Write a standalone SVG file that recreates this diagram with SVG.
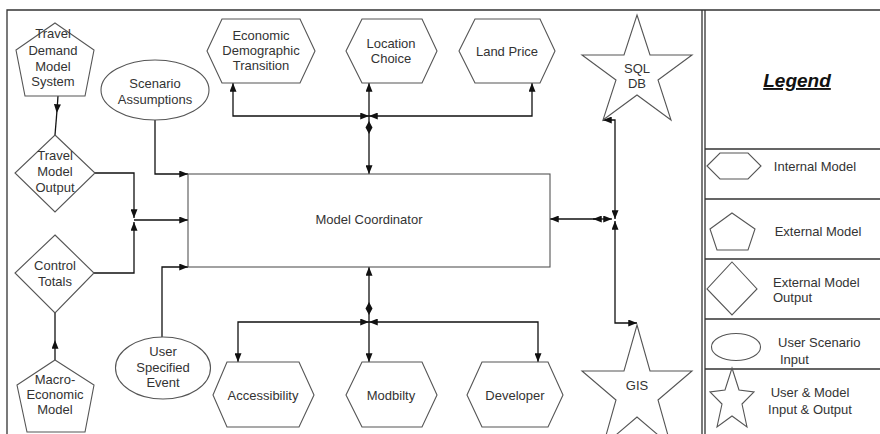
<svg xmlns="http://www.w3.org/2000/svg" width="880" height="434" viewBox="0 0 880 434">
<defs>
<marker id="ar" viewBox="0 0 10 8" refX="10" refY="4" markerWidth="9" markerHeight="7" markerUnits="userSpaceOnUse" orient="auto-start-reverse">
<path d="M0,0 L10,4 L0,8 Z" fill="#111"/>
</marker>
<style>
.sh{fill:#fff;stroke:#555;stroke-width:1.1}
.fr{fill:none;stroke:#333;stroke-width:1.3}
.cn{fill:none;stroke:#111;stroke-width:1.3}
.t{font-family:"Liberation Sans",Arial,sans-serif;font-size:13px;fill:#333;text-anchor:middle}
.tl{font-family:"Liberation Sans",Arial,sans-serif;font-size:13px;fill:#333}
.lg{font-family:"Liberation Sans",Arial,sans-serif;font-size:19px;font-weight:bold;font-style:italic;fill:#111;text-anchor:middle;text-decoration:underline}
</style>
</defs>
<rect width="880" height="434" fill="#fff"/>
<g id="frame">
<path class="fr" d="M7,434 V10 H880"/>
<path class="fr" d="M702,10 V434 M705,10 V434"/>
<path class="fr" d="M705,149 H880 M705,199 H880 M705,259 H880 M705,319 H880 M705,369 H880"/>
</g>
<g id="connectors">
<path class="cn" d="M58,96 L56.8,113" marker-end="url(#ar)"/>
<path class="cn" d="M56.8,113 L55,135"/>
<path class="cn" d="M55,360 L55,340" marker-end="url(#ar)"/>
<path class="cn" d="M55,340 L55,313"/>
<path class="cn" d="M95,173 H134 V218" marker-end="url(#ar)"/>
<path class="cn" d="M94,273 H134 V222" marker-end="url(#ar)"/>
<path class="cn" d="M134,220 H188" marker-end="url(#ar)"/>
<path class="cn" d="M155,120 V174 H188" marker-end="url(#ar)"/>
<path class="cn" d="M162,337 V267 H188" marker-end="url(#ar)"/>
<path class="cn" d="M369,116 H233 V83" marker-start="url(#ar)" marker-end="url(#ar)"/>
<path class="cn" d="M369,116 H532 V83" marker-start="url(#ar)" marker-end="url(#ar)"/>
<path class="cn" d="M369,116 V83" marker-end="url(#ar)"/>
<path class="cn" d="M369,116 V174" marker-end="url(#ar)"/>
<polygon points="369,121 372.5,127.5 369,134 365.5,127.5" fill="#111"/>
<path class="cn" d="M369,322 H238 V362" marker-start="url(#ar)" marker-end="url(#ar)"/>
<path class="cn" d="M369,322 H538 V362" marker-start="url(#ar)" marker-end="url(#ar)"/>
<path class="cn" d="M369,322 V362" marker-end="url(#ar)"/>
<path class="cn" d="M369,322 V267" marker-end="url(#ar)"/>
<polygon points="369,302 372.5,308.5 369,315 365.5,308.5" fill="#111"/>
<path class="cn" d="M600,219 H550" marker-end="url(#ar)"/>
<path class="cn" d="M593,219 H612" marker-start="url(#ar)" marker-end="url(#ar)"/>
<path class="cn" d="M615,219 V120 H603" marker-start="url(#ar)" marker-end="url(#ar)"/>
<path class="cn" d="M615,221 V323 H637" marker-start="url(#ar)" marker-end="url(#ar)"/>
</g>
<g id="model-coordinator">
<rect class="sh" x="188" y="174" width="362" height="93"/>
<text class="t" x="369" y="223.5">Model Coordinator</text>
</g>
<g id="travel-demand">
<polygon class="sh" points="55,23 94,50 85,96 25,96 16,50"/>
<text class="t" x="53" y="38">Travel</text>
<text class="t" x="53" y="55">Demand</text>
<text class="t" x="53" y="71">Model</text>
<text class="t" x="53" y="86">System</text>
</g>
<g id="travel-model-output">
<polygon class="sh" points="55,135 95,173 55,212 15,173"/>
<text class="t" x="55" y="160">Travel</text>
<text class="t" x="55" y="176">Model</text>
<text class="t" x="55" y="192">Output</text>
</g>
<g id="control-totals">
<polygon class="sh" points="55,235 94,273 55,313 15,273"/>
<text class="t" x="55" y="269.5">Control</text>
<text class="t" x="55" y="285.5">Totals</text>
</g>
<g id="macro-economic">
<polygon class="sh" points="55,360 94,385 85,432 27,432 17,385"/>
<text class="t" x="55" y="384">Macro-</text>
<text class="t" x="55" y="399">Economic</text>
<text class="t" x="55" y="414">Model</text>
</g>
<g id="scenario-assumptions">
<ellipse class="sh" cx="155" cy="90" rx="54" ry="30"/>
<text class="t" x="155" y="87.5">Scenario</text>
<text class="t" x="155" y="103.5">Assumptions</text>
</g>
<g id="user-specified-event">
<ellipse class="sh" cx="163" cy="368" rx="47.5" ry="31"/>
<text class="t" x="163" y="356">User</text>
<text class="t" x="163" y="372">Specified</text>
<text class="t" x="163" y="387">Event</text>
</g>
<g id="economic-demographic-transition">
<polygon class="sh" points="207,51 222,19 300,19 315,51 300,83 222,83"/>
<text class="t" x="261" y="39.5">Economic</text>
<text class="t" x="261" y="54.5">Demographic</text>
<text class="t" x="261" y="69.5">Transition</text>
</g>
<g id="location-choice">
<polygon class="sh" points="346,51 362,19 422,19 437,51 422,83 362,83"/>
<text class="t" x="391" y="47.5">Location</text>
<text class="t" x="391" y="62.5">Choice</text>
</g>
<g id="land-price">
<polygon class="sh" points="459,51 475,19 540,19 555,51 540,83 475,83"/>
<text class="t" x="507" y="55.5">Land Price</text>
</g>
<g id="accessibility">
<polygon class="sh" points="213,395 227,362 299,362 314,395 299,427 227,427"/>
<text class="t" x="263" y="399.5">Accessibility</text>
</g>
<g id="modbilty">
<polygon class="sh" points="346,395 362,362 422,362 437,395 422,427 362,427"/>
<text class="t" x="391" y="399.5">Modbilty</text>
</g>
<g id="developer">
<polygon class="sh" points="467,395 482,362 548,362 563,395 548,427 482,427"/>
<text class="t" x="515" y="399.5">Developer</text>
</g>
<g id="sql-db">
<polygon class="sh" points="637,15 650,55 692,55 658,80 671,120 637,95 603,120 616,80 582,55 624,55"/>
<text class="t" x="637" y="72.5">SQL</text>
<text class="t" x="637" y="87.5">DB</text>
</g>
<g id="gis">
<polygon class="sh" points="637,325 650,371 692,371 658,400 671,446 637,417 603,446 616,400 582,371 624,371"/>
<text class="t" x="637" y="389.5">GIS</text>
</g>
<g id="legend">
<text class="lg" x="797" y="87">Legend</text>
<polygon class="sh" points="707,166 720,153 748,153 761,166 748,179 720,179"/>
<text class="t" x="815" y="170.5">Internal Model</text>
<polygon class="sh" points="732,213 755,229 748,250 717,250 710,229"/>
<text class="t" x="818" y="236">External Model</text>
<polygon class="sh" points="732,262 757,289 732,315 707,289"/>
<text class="tl" x="773" y="287">External Model</text>
<text class="tl" x="773" y="302">Output</text>
<ellipse class="sh" cx="736" cy="347" rx="24.5" ry="13.5"/>
<text class="tl" x="778" y="347">User Scenario</text>
<text class="tl" x="780" y="364">Input</text>
<polygon class="sh" points="732,368 739,390 754,392 742,404 747,427 732,416 717,427 722,404 710,392 725,390"/>
<text class="t" x="810" y="397">User &amp; Model</text>
<text class="t" x="810" y="414">Input &amp; Output</text>
</g>
</svg>
